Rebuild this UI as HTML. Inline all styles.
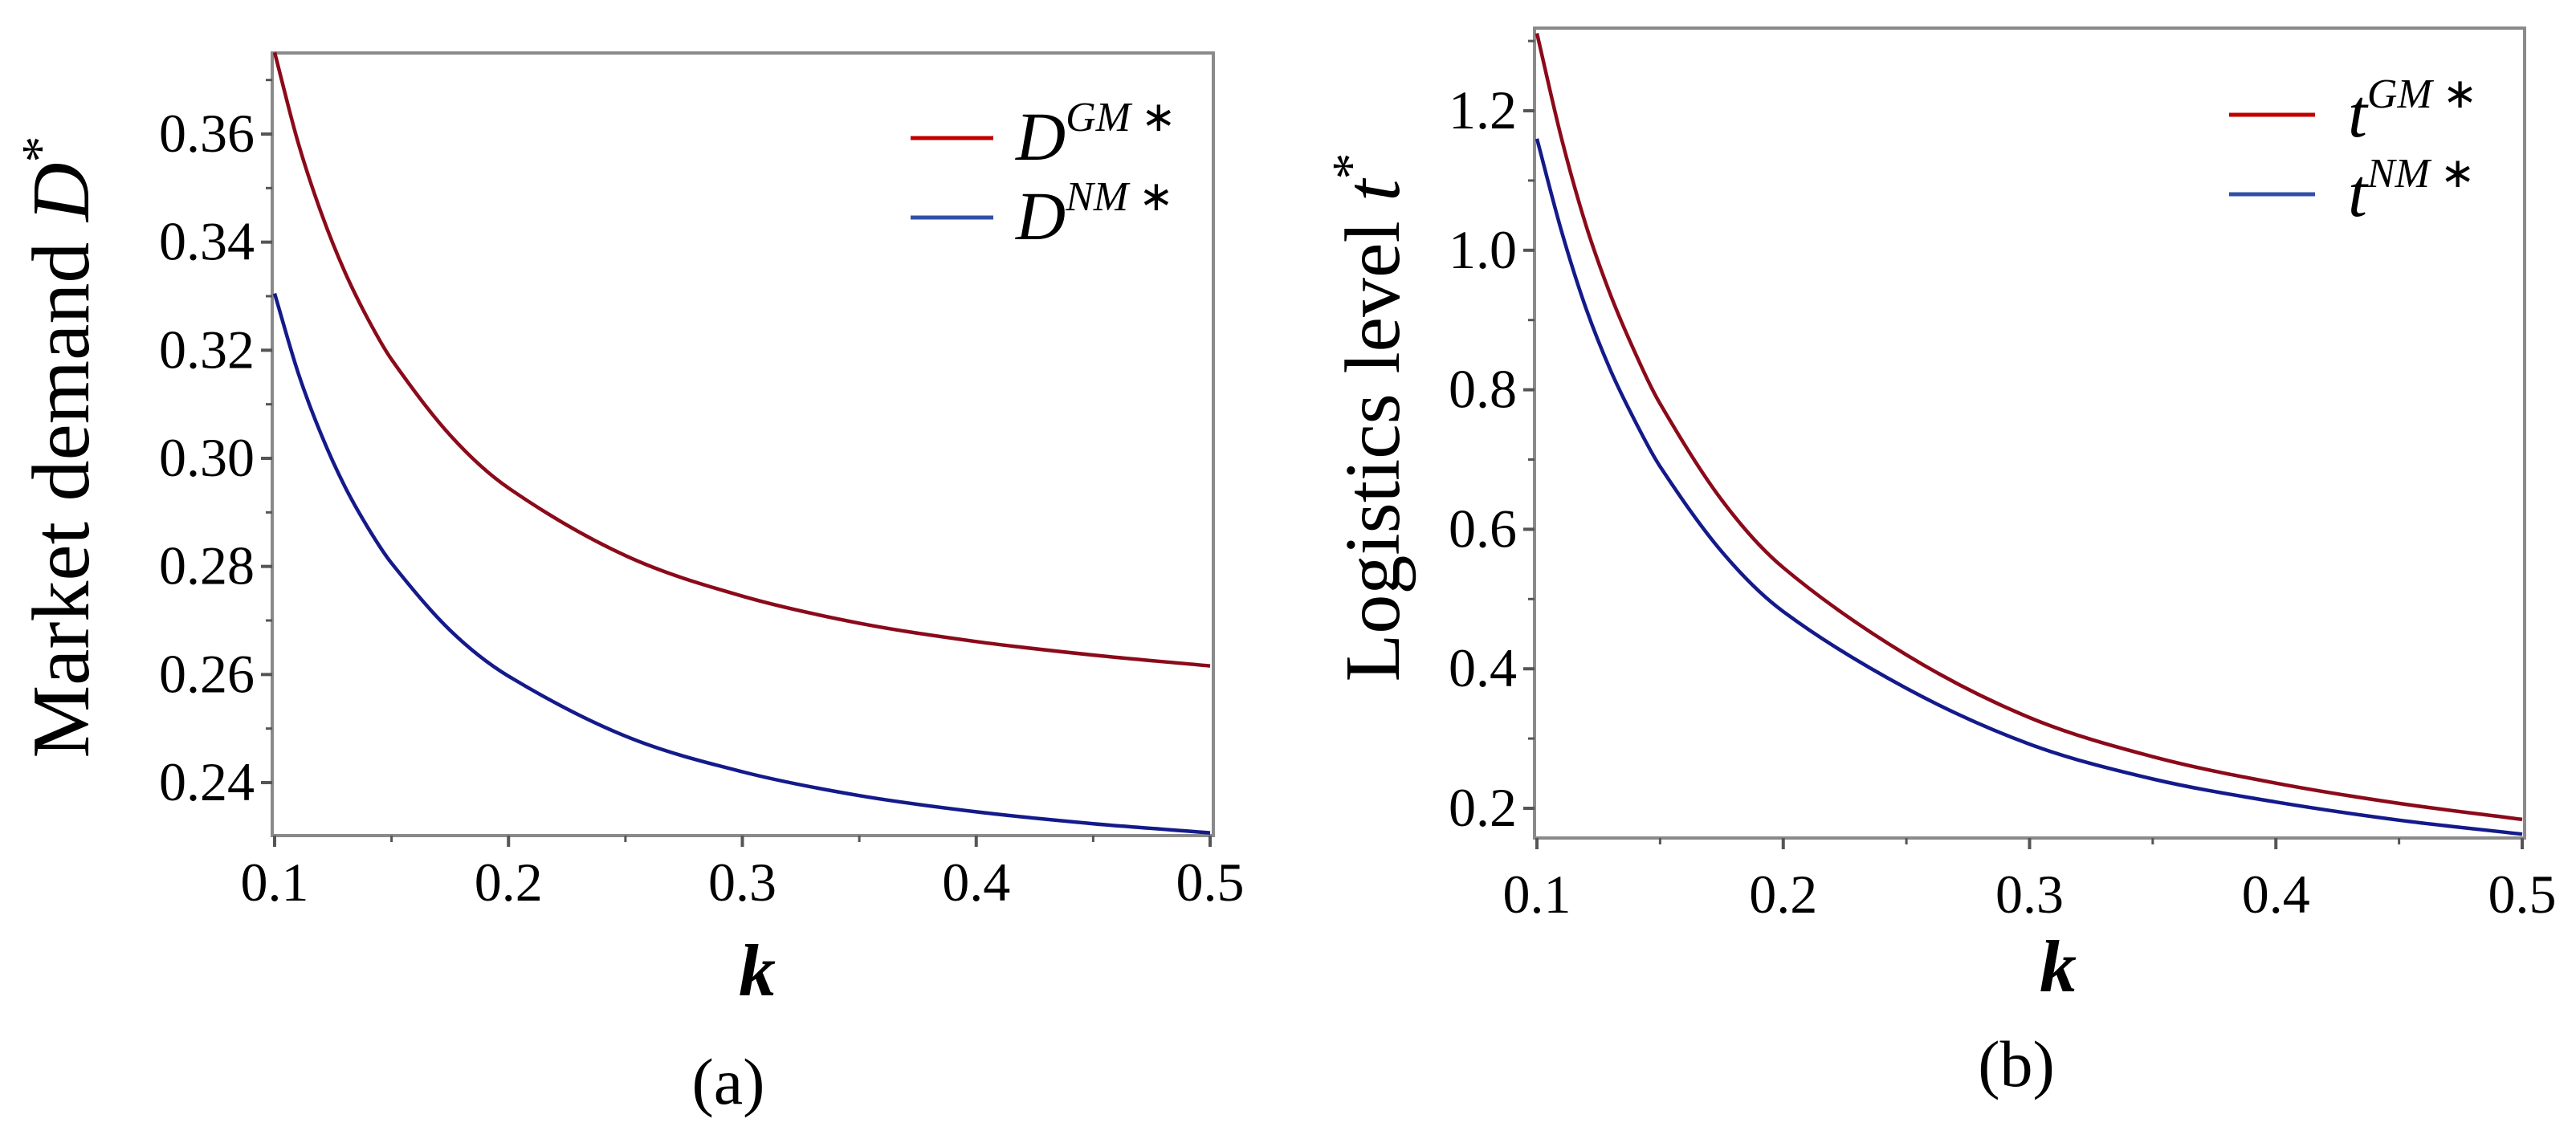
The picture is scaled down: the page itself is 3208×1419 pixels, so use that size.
<!DOCTYPE html>
<html><head><meta charset="utf-8"><style>
html,body{margin:0;padding:0;background:#fff;}
svg{display:block;}
text{font-family:"Liberation Serif",serif;fill:#000;}
</style></head><body>
<svg id="fig" width="3208" height="1419" viewBox="0 0 3208 1419" xmlns="http://www.w3.org/2000/svg">
<g id="pa"></g>
<g id="pb"></g>
</svg>
<script>
const kValues = [0.1,0.11,0.12,0.13,0.14,0.15,0.175,0.2,0.25,0.3,0.35,0.4,0.45,0.5];
const demandGM = [0.3751,0.3585,0.3453,0.3345,0.3257,0.3183,0.3043,0.2945,0.2820,0.2745,0.2695,0.2661,0.2636,0.2616];
const demandNM = [0.3305,0.3159,0.3043,0.2948,0.2871,0.2806,0.2682,0.2597,0.2486,0.2420,0.2376,0.2346,0.2324,0.2307];
const logisticsGM = [1.311,1.160,1.035,0.935,0.852,0.780,0.642,0.545,0.420,0.330,0.274,0.236,0.207,0.184];
const logisticsNM = [1.160,1.027,0.916,0.827,0.754,0.690,0.568,0.482,0.372,0.292,0.242,0.209,0.183,0.163];
const xTicksA = ["0.1","0.2","0.3","0.4","0.5"];
const yTicksA = ["0.24","0.26","0.28","0.30","0.32","0.34","0.36"];
const xTicksB = ["0.1","0.2","0.3","0.4","0.5"];
const yTicksB = ["0.2","0.4","0.6","0.8","1.0","1.2"];

const NS="http://www.w3.org/2000/svg";
function mk(parent,tag,attrs){const e=document.createElementNS(NS,tag);for(const k in attrs)e.setAttribute(k,attrs[k]);parent.appendChild(e);return e;}

function smoothPath(pts){
  const n=pts.length, m=[];
  for(let i=0;i<n;i++){
    const a=pts[Math.max(0,i-1)], b=pts[Math.min(n-1,i+1)];
    m.push((b[1]-a[1])/(b[0]-a[0]));
  }
  let d="M"+pts[0][0].toFixed(1)+","+pts[0][1].toFixed(1);
  for(let i=0;i<n-1;i++){
    const p1=pts[i],p2=pts[i+1],dx=(p2[0]-p1[0])/3;
    d+=" C"+(p1[0]+dx).toFixed(1)+","+(p1[1]+m[i]*dx).toFixed(1)+" "+(p2[0]-dx).toFixed(1)+","+(p2[1]-m[i+1]*dx).toFixed(1)+" "+p2[0].toFixed(1)+","+p2[1].toFixed(1);
  }
  return d;
}

function panel(g,cfg){
  const sx=v=>cfg.x0px+(v-cfg.xmin)/(cfg.xmax-cfg.xmin)*(cfg.x1px-cfg.x0px);
  const sy=v=>cfg.yApx+(v-cfg.yA)/(cfg.yB-cfg.yA)*(cfg.yBpx-cfg.yApx);
  const box=mk(g,"rect",{x:cfg.L,y:cfg.T,width:cfg.R-cfg.L,height:cfg.B-cfg.T,fill:"none",stroke:"#8a8a8a","stroke-width":4});
  
  
  cfg.yTicks.forEach(t=>{
    const v=parseFloat(t),y=sy(v);
    const tk=mk(g,"line",{x1:cfg.L-14,x2:cfg.L,y1:y,y2:y,stroke:"#555","stroke-width":4});
    
    
    const tx=mk(g,"text",{x:cfg.L-22,y:y+22,"text-anchor":"end","font-size":68});
    tx.textContent=t;
    
    
  });
  for(let v=cfg.yMinorStart;v<cfg.yMinorEnd;v+=cfg.yMinorStep){
    const y=sy(v); if(y<cfg.T+3||y>cfg.B-3) continue;
    const m=mk(g,"line",{x1:cfg.L-8,x2:cfg.L,y1:y,y2:y,stroke:"#555","stroke-width":3});
    
    
  }
  cfg.xTicks.forEach(t=>{
    const v=parseFloat(t),x=sx(v);
    const tk=mk(g,"line",{x1:x,x2:x,y1:cfg.B,y2:cfg.B+14,stroke:"#555","stroke-width":4});
    
    
    const tx=mk(g,"text",{x:x,y:cfg.xLabY,"text-anchor":"middle","font-size":68});
    tx.textContent=t;
    
    
  });
  for(let v=0.15;v<0.5;v+=0.1){
    const x=sx(v);
    const m=mk(g,"line",{x1:x,x2:x,y1:cfg.B,y2:cfg.B+8,stroke:"#555","stroke-width":3});
    
    
  }
  cfg.series.forEach(s=>{
    const pts=kValues.map((k,i)=>[sx(k),sy(s.vals[i])]);
    const p=mk(g,"path",{d:smoothPath(pts),fill:"none",stroke:s.color,"stroke-width":4.5});
    
    
  });
}

const pa=document.getElementById("pa");
panel(pa,{L:339,T:66,R:1511,B:1041,xmin:0.1,xmax:0.5,x0px:342,x1px:1507,
  yA:0.36,yApx:167,yB:0.24,yBpx:975,yTicks:yTicksA,xTicks:xTicksA,
  yMinorStart:0.23,yMinorEnd:0.38,yMinorStep:0.01,xLabY:1122,
  series:[{name:"demand-gm-line",color:"#8b0a1a",vals:demandGM},{name:"demand-nm-line",color:"#141a8a",vals:demandNM}]});
const pb=document.getElementById("pb");
panel(pb,{L:1911,T:35,R:3144,B:1044,xmin:0.1,xmax:0.5,x0px:1914,x1px:3141,
  yA:1.2,yApx:138,yB:0.2,yBpx:1007,yTicks:yTicksB,xTicks:xTicksB,
  yMinorStart:0.1,yMinorEnd:1.35,yMinorStep:0.1,xLabY:1137,
  series:[{name:"logistics-gm-line",color:"#8b0a1a",vals:logisticsGM},{name:"logistics-nm-line",color:"#141a8a",vals:logisticsNM}]});
</script>
<svg style="position:absolute;left:0;top:0" width="3208" height="1419">
  <text transform="translate(110,557) rotate(-90)" text-anchor="middle" font-size="102" font-family="Liberation Serif, serif">Market demand <tspan font-style="italic">D</tspan><tspan font-size="66" dy="-38">*</tspan></text>
  <text x="943" y="1240" text-anchor="middle" font-size="92" font-style="italic" font-weight="bold" font-family="Liberation Serif, serif">k</text>
  <text x="907" y="1375" text-anchor="middle" font-size="82" font-family="Liberation Serif, serif">(a)</text>
  <line x1="1134" y1="172" x2="1237" y2="172" stroke="#c00000" stroke-width="5"/>
  <line x1="1134" y1="271" x2="1237" y2="271" stroke="#3050a8" stroke-width="5"/>
  <text x="1265" y="199" font-size="86" font-style="italic" font-family="Liberation Serif, serif">D<tspan font-size="52" dy="-36">GM</tspan><tspan font-size="52" font-style="normal"> ∗</tspan></text>
  <text x="1265" y="298" font-size="86" font-style="italic" font-family="Liberation Serif, serif">D<tspan font-size="52" dy="-36">NM</tspan><tspan font-size="52" font-style="normal"> ∗</tspan></text>

  <text transform="translate(1742,520) rotate(-90)" text-anchor="middle" font-size="98" font-family="Liberation Serif, serif">Logistics level <tspan font-style="italic">t</tspan><tspan font-size="66" dy="-38">*</tspan></text>
  <text x="2563" y="1235" text-anchor="middle" font-size="92" font-style="italic" font-weight="bold" font-family="Liberation Serif, serif">k</text>
  <text x="2511" y="1353" text-anchor="middle" font-size="82" font-family="Liberation Serif, serif">(b)</text>
  <line x1="2776" y1="143" x2="2883" y2="143" stroke="#c00000" stroke-width="5"/>
  <line x1="2776" y1="242" x2="2883" y2="242" stroke="#3050a8" stroke-width="5"/>
  <text x="2924" y="170" font-size="86" font-style="italic" font-family="Liberation Serif, serif">t<tspan font-size="52" dy="-36">GM</tspan><tspan font-size="52" font-style="normal"> ∗</tspan></text>
  <text x="2924" y="269" font-size="86" font-style="italic" font-family="Liberation Serif, serif">t<tspan font-size="52" dy="-36">NM</tspan><tspan font-size="52" font-style="normal"> ∗</tspan></text>
</svg>
</body></html>
